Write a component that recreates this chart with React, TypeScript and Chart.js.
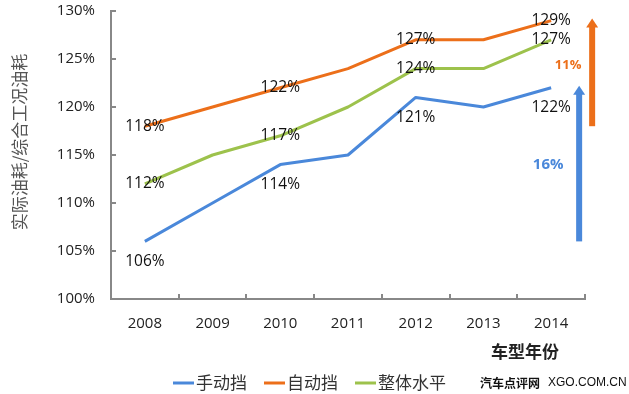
import React, { useEffect, useRef } from "react";
import { Chart, registerables } from "chart.js";

Chart.register(...registerables);

const years = ["2008", "2009", "2010", "2011", "2012", "2013", "2014"];
const manual = [106, 110, 114, 115, 121, 120, 122];
const automatic = [118, 120, 122, 124, 127, 127, 129];
const overall = [112, 115, 117, 120, 124, 124, 127];
const seriesNames = ["手动挡", "自动挡", "整体水平"];
const labeledIdx = [0, 2, 4, 6];
const yMin = 100;
const yMax = 130;
const yStep = 5;
const yTitle = "实际油耗/综合工况油耗";
const xTitle = "车型年份";
const watermarkCn = "汽车点评网";
const watermarkEn = "XGO.COM.CN";

const BLUE = "#4a88da";
const ORANGE = "#ec6f1a";
const GREEN = "#9dc24c";
const AXIS = "#888888";
const LATIN = "'Open Sans', 'Liberation Sans', sans-serif";
const CJK = "'Noto Sans CJK SC', sans-serif";

const extrasPlugin = {
  id: "extras",
  afterDatasetsDraw(chart: any) {
    const ctx = chart.ctx;
    const offsets = [20, 0, 0];
    ctx.save();
    ctx.font = `15.5px ${LATIN}`;
    ctx.fillStyle = "#111";
    ctx.textAlign = "center";
    ctx.textBaseline = "middle";
    chart.data.datasets.forEach((ds: any, di: number) => {
      const meta = chart.getDatasetMeta(di);
      labeledIdx.forEach((i) => {
        const p = meta.data[i];
        ctx.fillText(ds.data[i] + "%", p.x, p.y + offsets[di]);
      });
    });
    ctx.restore();
  },
  afterDraw(chart: any) {
    const ctx = chart.ctx;
    const xs = chart.scales.x;
    const ys = chart.scales.y;
    const area = chart.chartArea;
    ctx.save();
    // inner tick marks
    ctx.strokeStyle = AXIS;
    ctx.lineWidth = 2;
    for (let v = yMin; v <= yMax; v += yStep) {
      const y = Math.round(ys.getPixelForValue(v));
      ctx.beginPath();
      ctx.moveTo(area.left, y);
      ctx.lineTo(area.left + 5, y);
      ctx.stroke();
    }
    const n = years.length;
    const w = (area.right - area.left) / n;
    for (let i = 1; i <= n; i++) {
      const x = Math.round(area.left + i * w);
      ctx.beginPath();
      ctx.moveTo(x, area.bottom);
      ctx.lineTo(x, area.bottom - 5);
      ctx.stroke();
    }

    // y title
    ctx.save();
    ctx.translate(20, 142);
    ctx.rotate(-Math.PI / 2);
    ctx.font = `17px ${CJK}`;
    ctx.fillStyle = "#555";
    ctx.textAlign = "center";
    ctx.textBaseline = "middle";
    ctx.fillText(yTitle, 0, 0);
    ctx.restore();

    // x title
    ctx.font = `bold 17px ${CJK}`;
    ctx.fillStyle = "#222";
    ctx.textAlign = "center";
    ctx.textBaseline = "middle";
    ctx.fillText(xTitle, 525, 352);

    // legend
    const colors = [BLUE, ORANGE, GREEN];
    let lx = 173;
    const ly = 383;
    ctx.font = `17px ${CJK}`;
    ctx.textAlign = "left";
    seriesNames.forEach((name, i) => {
      ctx.strokeStyle = colors[i];
      ctx.lineWidth = 3;
      ctx.beginPath();
      ctx.moveTo(lx, ly);
      ctx.lineTo(lx + 21, ly);
      ctx.stroke();
      ctx.fillStyle = "#333";
      ctx.fillText(name, lx + 23, ly);
      lx += 23 + ctx.measureText(name).width + 17;
    });

    // watermark
    ctx.font = `bold 12px ${CJK}`;
    ctx.fillStyle = "#111";
    ctx.fillText(watermarkCn, 480, 383);
    const cw = ctx.measureText(watermarkCn).width;
    ctx.font = `12px 'Liberation Sans', sans-serif`;
    ctx.fillText(watermarkEn, 480 + cw + 8, 383);

    // growth arrows
    const last = years.length - 1;
    const xLast = xs.getPixelForValue(last);
    const drawArrow = (x: number, v0: number, v1: number, color: string) => {
      const yb = ys.getPixelForValue(v0);
      const yt = ys.getPixelForValue(v1) - 2;
      ctx.fillStyle = color;
      ctx.fillRect(x - 3, yt + 8, 6, yb - yt - 8);
      ctx.beginPath();
      ctx.moveTo(x - 6, yt + 9);
      ctx.lineTo(x, yt);
      ctx.lineTo(x + 6, yt + 9);
      ctx.closePath();
      ctx.fill();
    };
    const mg = manual[last] - manual[0];
    const ag = automatic[last] - automatic[0];
    const bx = xLast + 28;
    const ox = xLast + 41;
    drawArrow(bx, manual[0], manual[last], BLUE);
    drawArrow(ox, automatic[0], automatic[last], ORANGE);
    ctx.textAlign = "center";
    ctx.font = `bold 15px ${LATIN}`;
    ctx.fillStyle = BLUE;
    ctx.fillText(mg + "%", bx - 31, (ys.getPixelForValue(manual[0]) + ys.getPixelForValue(manual[last])) / 2);
    ctx.font = `bold 13px ${LATIN}`;
    ctx.fillStyle = ORANGE;
    ctx.fillText(ag + "%", ox - 24, (ys.getPixelForValue(automatic[0]) + ys.getPixelForValue(automatic[last])) / 2 - 8);
    ctx.restore();
  },
};

export default function App() {
  const ref = useRef<HTMLCanvasElement>(null);
  useEffect(() => {
    if (!ref.current) return;
    const chart = new Chart(ref.current, {
      type: "line",
      data: {
        labels: years,
        datasets: [
          { label: seriesNames[0], data: manual, borderColor: BLUE, backgroundColor: BLUE },
          { label: seriesNames[1], data: automatic, borderColor: ORANGE, backgroundColor: ORANGE },
          { label: seriesNames[2], data: overall, borderColor: GREEN, backgroundColor: GREEN },
        ],
      },
      options: {
        responsive: false,
        animation: false,
        devicePixelRatio: 1,
        layout: { padding: { left: 0, top: 11, right: 44, bottom: 0 } },
        elements: {
          line: { borderWidth: 3, tension: 0, borderJoinStyle: "round" as any },
          point: { radius: 0, hoverRadius: 0 },
        },
        plugins: { legend: { display: false }, tooltip: { enabled: false } },
        scales: {
          x: {
            offset: true,
            grid: { display: false, drawTicks: false },
            border: { display: true, color: AXIS, width: 2 },
            ticks: { font: { family: LATIN, size: 15 }, color: "#222", padding: 16 },
            afterFit: (s: any) => {
              s.height = 95;
              s.paddingLeft = 0;
              s.paddingRight = 0;
            },
          },
          y: {
            min: yMin,
            max: yMax,
            grid: { display: false, drawTicks: false },
            border: { display: true, color: AXIS, width: 2 },
            ticks: {
              stepSize: yStep,
              font: { family: LATIN, size: 15 },
              color: "#222",
              padding: 16,
              callback: (v: any) => v + "%",
            },
            afterFit: (s: any) => {
              s.width = 111;
              s.paddingTop = 0;
              s.paddingBottom = 0;
            },
          },
        },
      },
      plugins: [extrasPlugin],
    });
    return () => chart.destroy();
  }, []);
  return (
    <div style={{ position: "fixed", left: 0, top: 0, width: 629, height: 394, background: "#fff" }}>
      <canvas ref={ref} width={629} height={394} style={{ width: 629, height: 394 }} />
    </div>
  );
}
